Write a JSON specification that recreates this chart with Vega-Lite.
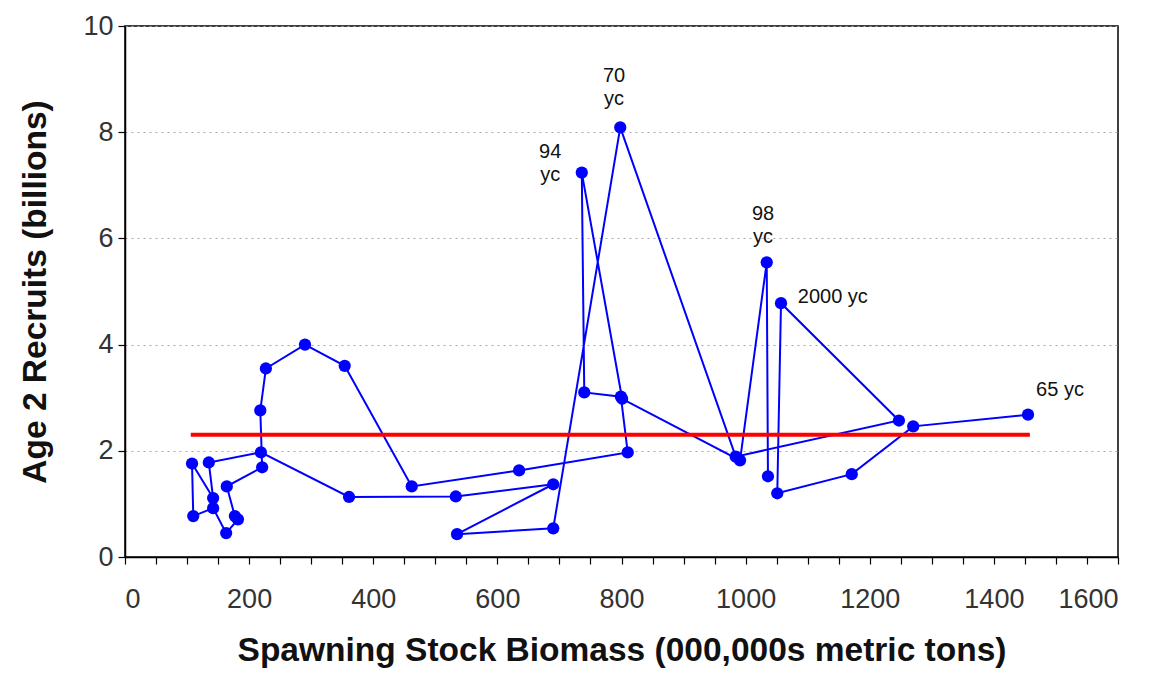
{
  "$schema": "https://vega.github.io/schema/vega-lite/v6.json",
  "width": 993,
  "height": 531,
  "autosize": "none",
  "padding": {"left": 125, "top": 26, "right": 46, "bottom": 120},
  "background": "white",
  "config": {"view": {"stroke": "black", "strokeWidth": 1.5}, "font": "Liberation Sans"},
  "datasets": {
    "pts": [
      {"seq": 1, "ssb": 1455, "rec": 2.68},
      {"seq": 2, "ssb": 1270, "rec": 2.46},
      {"seq": 3, "ssb": 1171, "rec": 1.56},
      {"seq": 4, "ssb": 1051, "rec": 1.20},
      {"seq": 5, "ssb": 1057, "rec": 4.78},
      {"seq": 6, "ssb": 1247, "rec": 2.57},
      {"seq": 7, "ssb": 984, "rec": 1.89},
      {"seq": 8, "ssb": 798, "rec": 8.09},
      {"seq": 9, "ssb": 690, "rec": 0.54},
      {"seq": 10, "ssb": 535, "rec": 0.43},
      {"seq": 11, "ssb": 690, "rec": 1.37},
      {"seq": 12, "ssb": 533, "rec": 1.14},
      {"seq": 13, "ssb": 361, "rec": 1.13},
      {"seq": 14, "ssb": 219, "rec": 1.97},
      {"seq": 15, "ssb": 135, "rec": 1.78},
      {"seq": 16, "ssb": 142, "rec": 1.11},
      {"seq": 17, "ssb": 108, "rec": 1.76},
      {"seq": 18, "ssb": 110, "rec": 0.77},
      {"seq": 19, "ssb": 142, "rec": 0.92},
      {"seq": 20, "ssb": 163, "rec": 0.45},
      {"seq": 21, "ssb": 182, "rec": 0.71},
      {"seq": 22, "ssb": 177, "rec": 0.77},
      {"seq": 23, "ssb": 164, "rec": 1.33},
      {"seq": 24, "ssb": 221, "rec": 1.69},
      {"seq": 25, "ssb": 218, "rec": 2.76},
      {"seq": 26, "ssb": 227, "rec": 3.55},
      {"seq": 27, "ssb": 290, "rec": 4.00},
      {"seq": 28, "ssb": 354, "rec": 3.60},
      {"seq": 29, "ssb": 462, "rec": 1.33},
      {"seq": 30, "ssb": 635, "rec": 1.63},
      {"seq": 31, "ssb": 810, "rec": 1.97},
      {"seq": 32, "ssb": 799, "rec": 3.02},
      {"seq": 33, "ssb": 740, "rec": 3.10},
      {"seq": 34, "ssb": 736, "rec": 7.24},
      {"seq": 35, "ssb": 801, "rec": 2.98},
      {"seq": 36, "ssb": 991, "rec": 1.82},
      {"seq": 37, "ssb": 1034, "rec": 5.55},
      {"seq": 38, "ssb": 1036, "rec": 1.52}
    ],
    "mean": [{"ssb": 106, "ssb2": 1458, "rec": 2.30}],
    "labels2": [
      {"ssb": 788, "rec": 9.25, "t": "70\nyc"},
      {"ssb": 685, "rec": 7.82, "t": "94\nyc"},
      {"ssb": 1028, "rec": 6.65, "t": "98\nyc"}
    ],
    "labels1": [
      {"ssb": 1084, "rec": 4.90, "t": "2000 yc"},
      {"ssb": 1468, "rec": 3.14, "t": "65 yc"}
    ]
  },
  "encoding": {
    "x": {
      "field": "ssb", "type": "quantitative",
      "scale": {"domain": [0, 1600], "nice": false, "zero": false},
      "axis": {
        "title": "Spawning Stock Biomass (000,000s metric tons)",
        "titleFont": "Liberation Sans", "titleFontSize": 33.5, "titleFontWeight": "bold", "titleColor": "#111",
        "titlePadding": 22,
        "values": [0,50,100,150,200,250,300,350,400,450,500,550,600,650,700,750,800,850,900,950,1000,1050,1100,1150,1200,1250,1300,1350,1400,1450,1500,1550,1600],
        "labelExpr": "datum.value % 200 === 0 ? datum.label : ''",
        "labelOverlap": false,
        "labelFont": "Liberation Sans", "labelFontSize": 27, "labelColor": "#333", "labelPadding": 22,
        "format": "d",
        "grid": false, "domainColor": "black", "domainWidth": 1.5,
        "tickColor": "black", "tickSize": 7, "tickWidth": 1.2
      }
    },
    "y": {
      "field": "rec", "type": "quantitative",
      "scale": {"domain": [0, 10], "nice": false, "zero": false},
      "axis": {
        "title": "Age 2 Recruits (billions)",
        "titleFont": "Liberation Sans", "titleFontSize": 33.5, "titleFontWeight": "bold", "titleColor": "#111",
        "titlePadding": 30,
        "values": [0, 2, 4, 6, 8, 10],
        "labelFont": "Liberation Sans", "labelFontSize": 27, "labelColor": "#333", "labelPadding": 5,
        "grid": true, "gridColor": "#a8a8a8", "gridDash": [2, 4], "gridWidth": 1.2,
        "domainColor": "black", "domainWidth": 1.5,
        "tickColor": "black", "tickSize": 7, "tickWidth": 1.2
      }
    }
  },
  "layer": [
    {
      "data": {"name": "pts"},
      "mark": {"type": "line", "color": "#0000FF", "strokeWidth": 2},
      "encoding": {
        "order": {"field": "seq", "type": "quantitative"}
      }
    },
    {
      "data": {"name": "pts"},
      "mark": {"type": "point", "shape": "circle", "filled": true, "color": "#0000FF", "opacity": 1, "size": 150}
    },
    {
      "data": {"name": "mean"},
      "mark": {"type": "rule", "color": "#FF0000", "strokeWidth": 4},
      "encoding": {
        "x2": {"field": "ssb2"}
      }
    },
    {
      "data": {"name": "labels2"},
      "mark": {"type": "text", "align": "center", "baseline": "top", "lineBreak": "\n", "lineHeight": 23, "fontSize": 20, "font": "Liberation Sans", "color": "#111"},
      "encoding": {
        "text": {"field": "t"}
      }
    },
    {
      "data": {"name": "labels1"},
      "mark": {"type": "text", "align": "left", "baseline": "middle", "fontSize": 20, "font": "Liberation Sans", "color": "#111"},
      "encoding": {
        "text": {"field": "t"}
      }
    }
  ]
}
